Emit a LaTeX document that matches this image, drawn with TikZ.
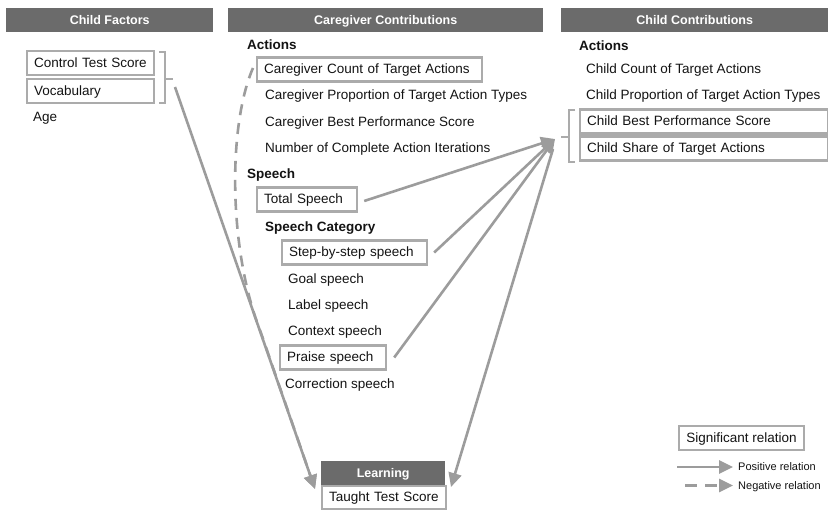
\documentclass[tikz,border=0pt]{standalone}
\usepackage{fontspec}
\setmainfont{Liberation Sans}
\usetikzlibrary{arrows.meta}
\definecolor{hdr}{HTML}{6B6B6B}
\definecolor{bgray}{HTML}{ABABAB}
\definecolor{agray}{HTML}{9C9C9C}
\definecolor{txt}{HTML}{141414}
\begin{document}
\begin{tikzpicture}[x=1pt,y=-1pt,
 every node/.style={font=\fontsize{13.5}{15}\selectfont, text=txt, text height=10.6pt, text depth=2.4pt},
 hdrbar/.style={fill=hdr, text=white, font=\fontsize{12.5}{14}\selectfont\bfseries, inner sep=0, anchor=north west, minimum height=24pt},
 sigbox/.style={draw=bgray, line width=2.2pt, inner xsep=7pt, inner ysep=0pt, minimum height=24pt, anchor=west, align=left},
 lbl/.style={anchor=west, inner sep=0pt},
 hd/.style={lbl, font=\fontsize{13.5}{15}\selectfont\bfseries},
 small/.style={lbl, font=\fontsize{11}{13}\selectfont},
 rel/.style={draw=agray, line width=2.6pt, -{Triangle[length=14pt,width=13pt]}},
 negrel/.style={rel, dash pattern=on 11pt off 8pt},
 brk/.style={draw=bgray, line width=2pt}
]
\useasboundingbox (0,0) rectangle (828,511);
\fill[white] (0,0) rectangle (828,511);

% headers
\node[hdrbar, minimum width=207pt] (hcf) at (6,8) {Child Factors};
\node[hdrbar, minimum width=315pt] (hcg) at (228,8) {Caregiver Contributions};
\node[hdrbar, minimum width=267pt] (hcc) at (561,8) {Child Contributions};

% child factors
\node[sigbox, text width=113pt] (ctrl) at (26,63) {Control Test Score};
\node[sigbox, text width=113pt] (vocab) at (26,91) {Vocabulary};
\node[lbl] (age) at (33,117) {Age};
\coordinate (lb1) at (159,52);
\coordinate (lb2) at (165,52);
\coordinate (lb3) at (165,103);
\coordinate (lb4) at (159,103);
\coordinate (lbm) at (165,79);
\coordinate (lbt) at (173,79);
\draw[brk] (lb1) -- (lb2) -- (lb3) -- (lb4);
\draw[brk] (lbm) -- (lbt);
\coordinate (lstart) at (175,87);

% caregiver contributions
\node[hd] (cgact) at (247,45) {Actions};
\node[sigbox, text width=211pt] (cgcount) at (256,69.5) {Caregiver Count of Target Actions};
\node[lbl] (cgprop) at (265,95.5) {Caregiver Proportion of Target Action Types};
\node[lbl] (cgbest) at (265,122) {Caregiver Best Performance Score};
\node[lbl] (cgiter) at (265,148) {Number of Complete Action Iterations};
\node[hd] (cgsp) at (247,174.5) {Speech};
\node[sigbox, text width=86pt] (total) at (256,199.5) {Total Speech};
\node[hd] (cgcat) at (265,227) {Speech Category};
\node[sigbox, text width=131pt] (step) at (281,252.5) {Step-by-step speech};
\node[lbl] (goal) at (288,279.5) {Goal speech};
\node[lbl] (label) at (288,305) {Label speech};
\node[lbl] (context) at (288,331) {Context speech};
\node[sigbox, text width=92pt] (praise) at (279,357.5) {Praise speech};
\node[lbl] (corr) at (285,384) {Correction speech};

% child contributions
\node[hd] (ccact) at (579,46) {Actions};
\node[lbl] (cccount) at (586,69) {Child Count of Target Actions};
\node[lbl] (ccprop) at (586,95.5) {Child Proportion of Target Action Types};
\node[sigbox, text width=234pt] (cbest) at (579,121.5) {Child Best Performance Score};
\node[sigbox, text width=234pt] (cshare) at (579,148.5) {Child Share of Target Actions};
\coordinate (rb1) at (575,110);
\coordinate (rb2) at (569,110);
\coordinate (rb3) at (569,162);
\coordinate (rb4) at (575,162);
\coordinate (rbm) at (569,136.5);
\coordinate (rbt) at (561,136.5);
\draw[brk] (rb1) -- (rb2) -- (rb3) -- (rb4);
\draw[brk] (rbm) -- (rbt);
\coordinate (ctip) at (555,139);
\coordinate (cdown) at (553,149);

% learning
\node[hdrbar, minimum width=124pt] (learn) at (321,461) {Learning};
\node[sigbox, text width=110pt, minimum height=23pt] (taught) at (321,497.5) {Taught Test Score};
\coordinate (tl) at (315,489);
\coordinate (tr) at (451,487);

% relations
\coordinate (merge) at (261,333);
\draw[negrel] ([shift={(-3,-1.5)}]cgcount.west) .. controls (228,125) and (228,250) .. (merge) -- (tl);
\draw[rel] (lstart) -- (tl);
\draw[rel] ([shift={(6,1.5)}]total.east) -- (ctip);
\draw[rel] ([shift={(6,0)}]step.east) -- (ctip);
\draw[rel] ([shift={(7,0)}]praise.east) -- (ctip);
\draw[rel] (cdown) -- (tr);

% legend
\node[draw=bgray, line width=2.2pt, inner sep=0pt, minimum height=24pt, minimum width=125pt, anchor=west] (sig) at (678,438) {Significant relation};
\coordinate (p1) at (677,467);
\coordinate (p2) at (733,467);
\draw[rel] (p1) -- (p2);
\node[small] (ptxt) at (738,466.5) {Positive relation};
\coordinate (n1) at (685,485.5);
\coordinate (n2) at (733,485.5);
\draw[rel, dash pattern=on 12pt off 8pt] (n1) -- (n2);
\node[small] (ntxt) at (738,485) {Negative relation};
\end{tikzpicture}
\end{document}
